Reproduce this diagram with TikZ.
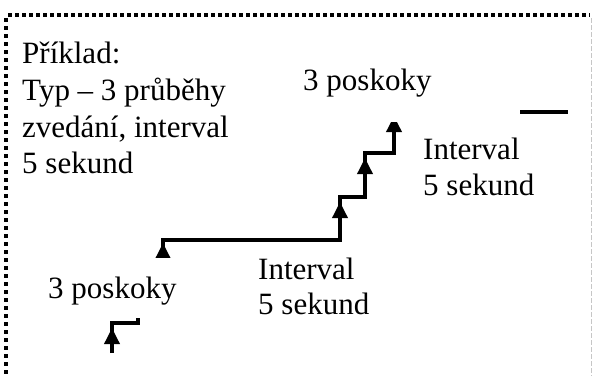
\documentclass[tikz,border=0pt]{standalone}
\usepackage{fontspec}
\setmainfont{Liberation Serif}
\usetikzlibrary{arrows.meta}
\begin{document}
\begin{tikzpicture}[x=1bp,y=-1bp,
  stair/.style={line width=3.5bp, line join=miter, black},
  stairhead/.style={line width=3.5bp, -{Triangle[length=16bp,width=15bp]}},
  mask/.style={fill=white},
  lbl/.style={anchor=base west, inner sep=0pt, font=\fontsize{31bp}{36bp}\selectfont},
  topedge/.style={line width=3.5bp, dash pattern=on 4bp off 3bp},
  leftedge/.style={line width=3.5bp, dash pattern=on 4bp off 4bp},
  rightedge/.style={gray!45, line width=0.7bp, dash pattern=on 5bp off 2bp}]
\useasboundingbox (0,0) rectangle (593,376);
\fill[white] (0,0) rectangle (593,376);
% frame
\draw[topedge] (8,15) -- (590,15);
\draw[leftedge] (6,18) -- (6,376);
\draw[rightedge] (591,18) -- (591,376);
% staircase corners
\coordinate (s0) at (112,353);
\coordinate (s1) at (112,323);
\coordinate (s2) at (138,323);
\coordinate (s3) at (138,282);
\coordinate (s4) at (163,282);
\coordinate (s5) at (163,240);
\coordinate (s6) at (340,240);
\coordinate (s7) at (340,197);
\coordinate (s8) at (365,197);
\coordinate (s9) at (365,153);
\coordinate (s10) at (394,153);
\coordinate (s11) at (394,112);
\coordinate (s12) at (568,112);
\draw[stair] (s0) -- (s1) -- (s2) -- (s3) -- (s4) -- (s5) -- (s6) -- (s7) -- (s8) -- (s9) -- (s10) -- (s11) -- (s12);
% arrowheads on the risers
\coordinate (h1a) at (112,344); \coordinate (h1b) at (112,328);
\coordinate (h2a) at (163,258); \coordinate (h2b) at (163,243);
\coordinate (h3a) at (340,218); \coordinate (h3b) at (340,202);
\coordinate (h4a) at (365,174); \coordinate (h4b) at (365,158);
\coordinate (h5a) at (394,132); \coordinate (h5b) at (394,116);
\draw[stairhead] (h1a) -- (h1b);
\draw[stairhead] (h2a) -- (h2b);
\draw[stairhead] (h3a) -- (h3b);
\draw[stairhead] (h4a) -- (h4b);
\draw[stairhead] (h5a) -- (h5b);
% white label backgrounds
\fill[mask] (290,48) rectangle (520,122);
\fill[mask] (28,258) rectangle (215,318);
% texts
\node[lbl] (ex1) at (22,63) {Příklad:};
\node[lbl] (ex2) at (22,100) {Typ – 3 průběhy};
\node[lbl] (ex3) at (22,137) {zvedání, interval};
\node[lbl] (ex4) at (22,173) {5 sekund};
\node[lbl] (jumpTop) at (303,90) {3 poskoky};
\node[lbl] (jumpBot) at (48,298) {3 poskoky};
\node[lbl] (intA1) at (258,279) {Interval};
\node[lbl] (intA2) at (258,314) {5 sekund};
\node[lbl] (intB1) at (423,159) {Interval};
\node[lbl] (intB2) at (423,195) {5 sekund};
\end{tikzpicture}
\end{document}
